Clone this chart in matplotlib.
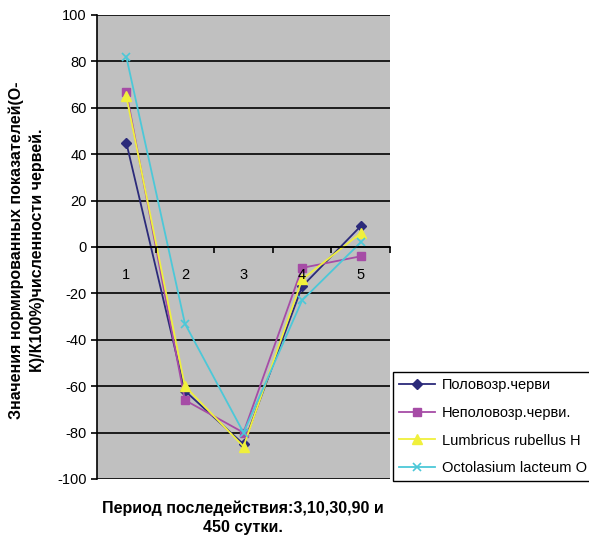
import matplotlib
matplotlib.use("Agg")
import matplotlib.pyplot as plt
from matplotlib.ticker import FixedLocator

plt.rcParams['font.family'] = ['Liberation Sans', 'DejaVu Sans']

categories = [1, 2, 3, 4, 5]
cat_labels = ["1", "2", "3", "4", "5"]
s_polovozr = [45, -62, -85, -17, 9]
s_nepolovozr = [67, -66, -80, -9, -4]
s_lumbricus = [65, -60, -86, -14, 6]
s_octolasium = [82, -33, -80, -23, 2]
names = ["Половозр.черви", "Неполовозр.черви.", "Lumbricus rubellus H", "Octolasium lacteum O"]
yticks = [-100, -80, -60, -40, -20, 0, 20, 40, 60, 80, 100]

fig = plt.figure(figsize=(5.89, 5.40), dpi=100)
ax = fig.add_axes([97/589, 1-479/540, (390-97)/589, (479-15)/540])
ax.set_facecolor('#c0c0c0')

styles = [
    dict(color='#2b2a7a', marker='D', markersize=5.5),
    dict(color='#a64ca6', marker='s', markersize=6),
    dict(color='#f0f03c', marker='^', markersize=7),
    dict(color='#4cc8d8', marker='x', markersize=6, markeredgewidth=1.2),
]
for vals, name, st in zip([s_polovozr, s_nepolovozr, s_lumbricus, s_octolasium], names, styles):
    ax.plot(categories, vals, lw=1.3, label=name, **st)

ax.set_xlim(0.5, 5.5)
ax.set_ylim(-100, 100)
ax.set_yticks(yticks)
ax.set_yticklabels([str(v) for v in yticks], fontsize=10.5)
ax.yaxis.grid(True, color='black', lw=1.2)
ax.set_axisbelow(True)

ax.spines['bottom'].set_position(('data', 0))
ax.spines['top'].set_visible(False)
ax.spines['right'].set_visible(False)
ax.spines['left'].set_linewidth(1.2)
ax.spines['bottom'].set_linewidth(1.2)
ax.set_xticks(categories)
ax.set_xticklabels(cat_labels, fontsize=10.5)
ax.tick_params(axis='x', which='major', length=0, pad=15)
ax.xaxis.set_minor_locator(FixedLocator([1.5, 2.5, 3.5, 4.5, 5.5]))
ax.tick_params(axis='x', which='minor', length=4, direction='out', width=1.2, bottom=True, top=False)
ax.tick_params(axis='y', length=4, width=1.2)
ax.xaxis.set_zorder(4)

fig.text(27/589, 1-250/540, "Значения нормированных показателей(О-\nК)/К100%)численности червей.",
         rotation=90, ha='center', va='center', fontsize=11.5, fontweight='bold', linespacing=1.45)
fig.text(243/589, 1-518/540, "Период последействия:3,10,30,90 и\n450 сутки.",
         ha='center', va='center', fontsize=11.5, fontweight='bold', linespacing=1.3)

leg = fig.legend(loc='upper left', bbox_to_anchor=(393/589, 1-372/540), fontsize=10.5,
                 frameon=True, fancybox=False, edgecolor='black', framealpha=1,
                 handlelength=2.5, borderpad=0.4, labelspacing=0.95, handletextpad=0.45,
                 borderaxespad=0)
leg.get_frame().set_linewidth(1.0)

fig.savefig('out.png', dpi=100)
